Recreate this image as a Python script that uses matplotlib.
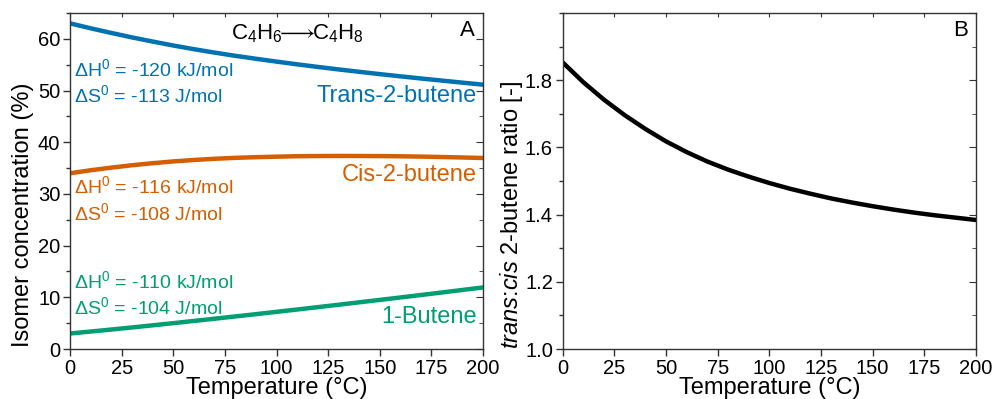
import matplotlib
matplotlib.use("Agg")
import matplotlib.pyplot as plt
from matplotlib.ticker import MultipleLocator

plt.rcParams['font.family'] = ['Liberation Sans', 'DejaVu Sans']
plt.rcParams['mathtext.fontset'] = 'custom'
plt.rcParams['mathtext.rm'] = 'Liberation Sans'
plt.rcParams['mathtext.it'] = 'Liberation Sans:italic'
plt.rcParams['mathtext.bf'] = 'Liberation Sans:bold'

# Temperature grid (°C)
temperature = [0, 10, 20, 30, 40, 50, 60, 70, 80, 90, 100,
               110, 120, 130, 140, 150, 160, 170, 180, 190, 200]

# Equilibrium isomer concentrations (%)
trans_2_butene = [63.00, 62.04, 61.14, 60.28, 59.48, 58.71, 58.00, 57.34, 56.72, 56.15, 55.60,
                  55.07, 54.57, 54.09, 53.63, 53.18, 52.75, 52.33, 51.93, 51.53, 51.14]
cis_2_butene = [34.00, 34.58, 35.09, 35.55, 35.94, 36.29, 36.57, 36.80, 36.98, 37.11, 37.21,
                37.29, 37.33, 37.35, 37.34, 37.32, 37.28, 37.22, 37.14, 37.05, 36.95]
butene_1 = [3.00, 3.38, 3.77, 4.17, 4.58, 5.00, 5.43, 5.86, 6.30, 6.74, 7.19,
            7.64, 8.10, 8.56, 9.03, 9.50, 9.97, 10.45, 10.93, 11.42, 11.91]

# trans:cis ratio
trans_cis_ratio = [1.853, 1.794, 1.742, 1.696, 1.655, 1.618, 1.586, 1.558, 1.534, 1.513, 1.494,
                   1.477, 1.462, 1.448, 1.436, 1.425, 1.415, 1.406, 1.398, 1.391, 1.384]

c_trans = '#0072B2'
c_cis = '#D55E00'
c_1b = '#009E73'
spine_c = '#333333'

fig = plt.figure(figsize=(9.95, 3.99), dpi=100)
axA = fig.add_axes([0.0704, 0.1253, 0.4150, 0.8421])
axB = fig.add_axes([0.5655, 0.1253, 0.4154, 0.8421])

tick_fs = 14.5
label_fs = 17
ann_fs = 14
name_fs = 17


def style_axes(ax, ymajor, yminor):
    for s in ax.spines.values():
        s.set_color(spine_c)
        s.set_linewidth(1.0)
    ax.xaxis.set_major_locator(MultipleLocator(25))
    ax.yaxis.set_minor_locator(MultipleLocator(yminor))
    ax.tick_params(axis='both', which='both', labelsize=tick_fs, color=spine_c, width=1.0,
                   top=False, right=False)
    ax.tick_params(axis='both', which='major', direction='out', length=5, pad=2)
    ax.tick_params(axis='both', which='minor', direction='out', length=3)
    # mirrored ticks on the top and right spines point inward
    sec_x = ax.secondary_xaxis('top')
    sec_x.xaxis.set_major_locator(MultipleLocator(25))
    sec_x.tick_params(direction='in', length=3, labeltop=False, color=spine_c)
    sec_x.spines['top'].set_visible(False)
    sec_y = ax.secondary_yaxis('right')
    sec_y.yaxis.set_major_locator(MultipleLocator(ymajor))
    sec_y.yaxis.set_minor_locator(MultipleLocator(yminor))
    sec_y.tick_params(which='major', direction='in', length=5, labelright=False, color=spine_c)
    sec_y.tick_params(which='minor', direction='in', length=3, color=spine_c)
    sec_y.spines['right'].set_visible(False)


# Panel A: isomer concentrations
axA.plot(temperature, trans_2_butene, color=c_trans, lw=3.2)
axA.plot(temperature, cis_2_butene, color=c_cis, lw=3.2)
axA.plot(temperature, butene_1, color=c_1b, lw=3.2)
axA.set_xlim(0, 200)
axA.set_ylim(0, 65)
axA.yaxis.set_major_locator(MultipleLocator(10))
style_axes(axA, 10, 5)
axA.set_xlabel('Temperature (°C)', fontsize=label_fs)
axA.set_ylabel('Isomer concentration (%)', fontsize=label_fs)
axA.xaxis.set_label_coords(0.5, -0.083)
axA.yaxis.set_label_coords(-0.088, 0.40)

axA.text(2, 54.1, 'ΔH$^0$ = -120 kJ/mol', color=c_trans, fontsize=ann_fs, va='center', ha='left')
axA.text(2, 49.2, 'ΔS$^0$ = -113 J/mol', color=c_trans, fontsize=ann_fs, va='center', ha='left')
axA.text(197, 48.9, 'Trans-2-butene', color=c_trans, fontsize=name_fs, va='center', ha='right')
axA.text(197, 33.7, 'Cis-2-butene', color=c_cis, fontsize=name_fs, va='center', ha='right')
axA.text(2, 31.6, 'ΔH$^0$ = -116 kJ/mol', color=c_cis, fontsize=ann_fs, va='center', ha='left')
axA.text(2, 26.3, 'ΔS$^0$ = -108 J/mol', color=c_cis, fontsize=ann_fs, va='center', ha='left')
axA.text(2, 13.1, 'ΔH$^0$ = -110 kJ/mol', color=c_1b, fontsize=ann_fs, va='center', ha='left')
axA.text(2, 8.1, 'ΔS$^0$ = -104 J/mol', color=c_1b, fontsize=ann_fs, va='center', ha='left')
axA.text(197, 6.1, '1-Butene', color=c_1b, fontsize=name_fs, va='center', ha='right')
axA.text(110, 61.0, r'C$_4$H$_6$$\!\!\longrightarrow\!\!$C$_4$H$_8$', color='black', fontsize=16,
         va='center', ha='center')
axA.text(196, 61.6, 'A', color='black', fontsize=16, va='center', ha='right')

# Panel B: trans:cis ratio
axB.plot(temperature, trans_cis_ratio, color='black', lw=3.2)
axB.set_xlim(0, 200)
axB.set_ylim(1.0, 2.0)
axB.set_yticks([1.0, 1.2, 1.4, 1.6, 1.8])
style_axes(axB, 0.2, 0.1)
axB.set_xlabel('Temperature (°C)', fontsize=label_fs)
axB.set_ylabel(r'$\it{trans}$:$\it{cis}$ 2-butene ratio [-]', fontsize=label_fs)
axB.xaxis.set_label_coords(0.5, -0.083)
axB.yaxis.set_label_coords(-0.092, 0.40)
axB.text(196, 1.947, 'B', color='black', fontsize=16, va='center', ha='right')

fig.savefig('out.png', dpi=100)
